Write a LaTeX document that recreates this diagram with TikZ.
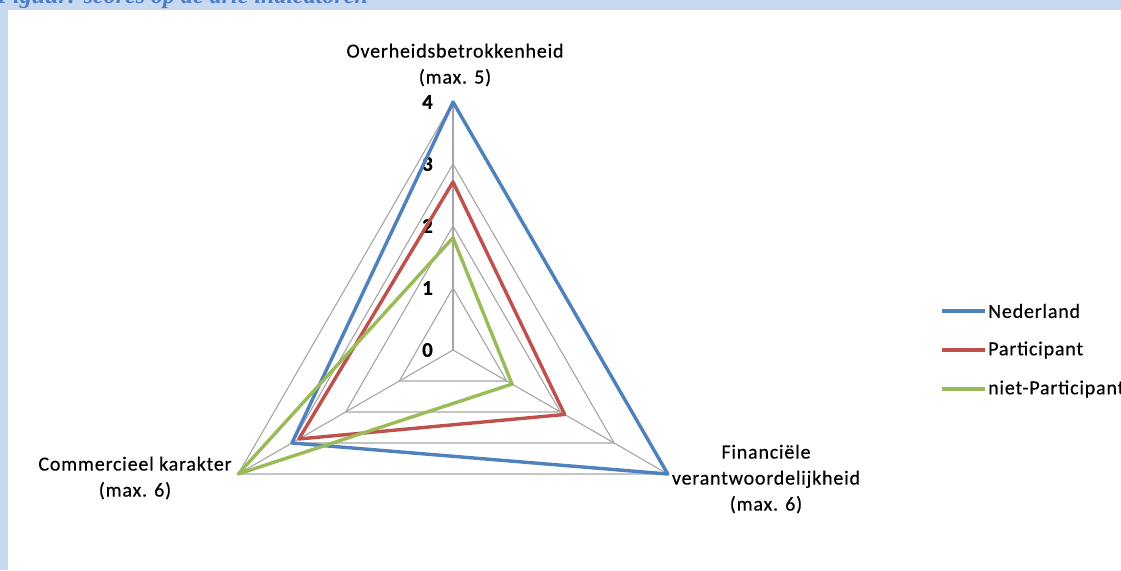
\documentclass[tikz,border=0pt]{standalone}
\usepackage{fontspec}
\setmainfont{Carlito}[LetterSpace=4,FakeBold=0.4]
\newfontfamily\capfont{Liberation Serif}
\definecolor{framecol}{HTML}{C6D9F1}
\definecolor{capblue}{HTML}{4A7EC5}
\definecolor{serblue}{HTML}{4F81BD}
\definecolor{serred}{HTML}{C0504D}
\definecolor{sergreen}{HTML}{9BBB59}
\definecolor{gridcol}{HTML}{A6A6A6}
\tikzset{
  gridline/.style={draw=gridcol, line width=1.1pt},
  series/.style={line width=3.4pt, line join=round},
  axislabel/.style={font=\fontsize{20}{26}\selectfont, align=center, inner sep=0pt},
  ticklabel/.style={font=\bfseries\fontsize{21}{22}\selectfont, anchor=east, inner sep=0pt},
  legtext/.style={font=\fontsize{20}{22}\selectfont, anchor=west, inner sep=0pt},
}
\begin{document}
\begin{tikzpicture}[x=1pt,y=-1pt]
\useasboundingbox (0,0) rectangle (1121,570);
\fill[white] (0,0) rectangle (1121,570);
\fill[framecol] (0,0) rectangle (1121,10);
\fill[framecol] (0,0) rectangle (8,570);
\begin{scope}
\clip (0,0) rectangle (1121,570);
\node[anchor=base west, inner sep=0pt, text=capblue,
  font=\capfont\bfseries\itshape\fontsize{24}{26}\selectfont] (title) at (-3,4) {Figuur: scores op de drie indicatoren};
\end{scope}

% radar chart
\begin{scope}[shift={(453,350)}]
\coordinate (C) at (0,0);
% grid rings
\foreach \v in {1,2,3,4} {
  \draw[gridline] (270:62*\v) -- (30:62*\v) -- (150:62*\v) -- cycle;
}
% spokes
\draw[gridline] (C) -- (270:248);
\draw[gridline] (C) -- (30:248);
\draw[gridline] (C) -- (150:248);
% tick labels
\foreach \v in {0,1,2,3,4} {
  \node[ticklabel] (t\v) at (-20,-62*\v) {\v};
}
% series
\draw[series, serblue] (270:4*62) -- (30:4*62) -- (150:3.0*62) -- cycle;
\draw[series, serred] (270:2.71*62) -- (30:2.08*62) -- (150:2.87*62) -- cycle;
\draw[series, sergreen] (270:1.81*62) -- (30:1.10*62) -- (150:4*62) -- cycle;
\end{scope}

% axis labels
\node[axislabel] (ax1) at (455,65) {Overheidsbetrokkenheid\\(max. 5)};
\node[axislabel] (ax2) at (766,479) {Financiële\\verantwoordelijkheid\\(max. 6)};
\node[axislabel] (ax3) at (135,478) {Commercieel karakter\\(max. 6)};

% legend
\coordinate (l1a) at (942,311); \coordinate (l1b) at (985,311);
\coordinate (l2a) at (942,350); \coordinate (l2b) at (985,350);
\coordinate (l3a) at (942,389); \coordinate (l3b) at (985,389);
\draw[series, serblue] (l1a) -- (l1b);
\draw[series, serred] (l2a) -- (l2b);
\draw[series, sergreen] (l3a) -- (l3b);
\node[legtext] (n1) at (988,311) {Nederland};
\node[legtext] (n2) at (988,350) {Participant};
\node[legtext] (n3) at (988,389) {niet-Participant};
\end{tikzpicture}
\end{document}
